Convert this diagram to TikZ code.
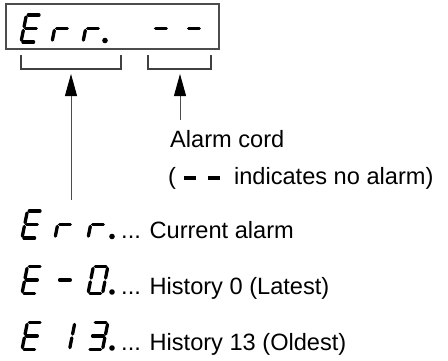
\documentclass[tikz,border=0pt]{standalone}
\usepackage{fontspec}
\setmainfont{Liberation Sans}
\usetikzlibrary{arrows.meta, positioning, calc}

% seven-segment pieces (local units, upright, before slant)
\newcommand{\sgA}{\draw[seg] (1.9,27) -- (12.6,27);}
\newcommand{\sgB}{\draw[seg] (14.5,25.1) -- (14.5,15.4);}
\newcommand{\sgC}{\draw[seg] (14.5,11.6) -- (14.5,1.9);}
\newcommand{\sgD}{\draw[seg] (1.9,0) -- (12.6,0);}
\newcommand{\sgE}{\draw[seg] (0,11.6) -- (0,1.9);}
\newcommand{\sgF}{\draw[seg] (0,25.1) -- (0,15.4);}
\newcommand{\sgG}{\draw[seg] (1.9,13.5) -- (12.6,13.5);}
\newcommand{\ledchar}[3]{%
  \begin{scope}[shift={(#1,#2)}, xslant=0.2]
    \foreach \s in {#3} {\csname sg\s\endcsname}
  \end{scope}}
\newcommand{\leddot}[2]{\fill (#1,#2) circle (2.8bp);}
\newcommand{\leddash}{\rule[4.5bp]{12bp}{3.2bp}}

\begin{document}
\begin{tikzpicture}[
    x=1bp, y=1bp,
    seg/.style={line width=3.3bp, line cap=round},
    frame/.style={draw=black!70, line width=1.3bp, minimum width=213bp, minimum height=45bp, inner sep=0pt},
    brk/.style={draw=black!75, line width=1.1bp},
    txt/.style={font=\fontsize{23.6bp}{28bp}\selectfont, inner sep=0pt, anchor=base west},
    pointer/.style={-{Triangle[length=22bp, width=12bp, color=black]}, draw=black!70, line width=0.9bp}
]
    \useasboundingbox (0,0) rectangle (448,360);

    % Display window
    \node[frame] (disp) at (112.5,333.5) {};
    \ledchar{21}{318}{A,D,E,F,G}
    \ledchar{52}{318}{E,G}
    \ledchar{83}{318}{E,G}
    \leddot{105}{319.5}
    \ledchar{151}{318}{G}
    \ledchar{184}{318}{G}

    % Brackets under the window
    \draw[brk] (21,305) |- (121,291) -- (121,305);
    \draw[brk] (148,305) |- (211,291) -- (211,305);
    \coordinate (lbr) at (71,286);
    \coordinate (rbr) at (180,286);

    % Alarm cord notes
    \node[txt] (cord) at (170,213) {Alarm cord};
    \node[txt] (noalm) at (168,176) {(\hspace{8bp}\leddash\hspace{12bp}\leddash\hspace{14bp}indicates no alarm)};
    \coordinate (cordtop) at (180,240);
    \coordinate (errtop) at (71,160);

    % Arrows
    \draw[pointer] (errtop) -- (lbr);
    \draw[pointer] (cordtop) -- (rbr);

    % Alarm history rows
    \ledchar{22}{122}{A,D,E,F,G}
    \ledchar{55}{122}{E,G}
    \ledchar{88}{122}{E,G}
    \leddot{112}{123.5}
    \node[txt] (cur) at (121,121.5) {... Current alarm};

    \ledchar{22}{66.5}{A,D,E,F,G}
    \ledchar{55}{66.5}{G}
    \ledchar{88}{66.5}{A,B,C,D,E,F}
    \leddot{112}{68}
    \node[txt] (hist0) at (121,66) {... History 0 (Latest)};

    \ledchar{22}{10.5}{A,D,E,F,G}
    \ledchar{55}{10.5}{B,C}
    \ledchar{88}{10.5}{A,B,C,D,G}
    \leddot{112}{12}
    \node[txt] (hist13) at (121,10) {... History 13 (Oldest)};
\end{tikzpicture}
\end{document}
